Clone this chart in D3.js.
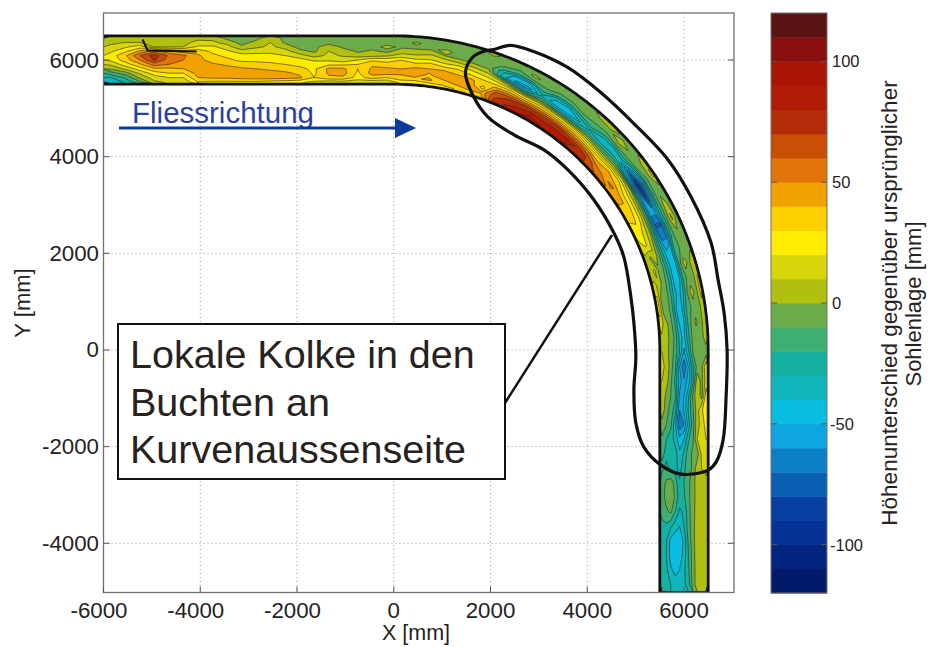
<!DOCTYPE html>
<html>
<head>
    <meta charset="utf-8">
    <title>Sohlenlage Kurve</title>
    <script src="https://d3js.org/d3.v7.min.js"></script>
    <style>
        html, body { margin: 0; padding: 0; background: #fff; }
        svg { display: block; }
        text { font-family: "Liberation Sans", Arial, sans-serif; fill: #26221e; }
        .grid { stroke: #9a9a9a; stroke-width: 1; stroke-dasharray: 1 3; }
        .frame { fill: none; stroke: #75706a; stroke-width: 1.3; }
        .tick { stroke: #5a5650; stroke-width: 1; }
        .iso { fill: none; stroke: #2b2b28; stroke-width: 0.7; stroke-opacity: 0.85; }
    </style>
</head>
<body>
    <div id="chart"></div>
    <script>
        const width = 928;
        const height = 647;

        // Achsen
        const xTicks = [-6000, -4000, -2000, 0, 2000, 4000, 6000];
        const yTicks = [6000, 4000, 2000, 0, -2000, -4000];
        const barTicks = [100, 50, 0, -50, -100];

        // Hoehenklassen der Farbskala [mm], Untergrenze je Klasse
        const levels = [-120, -110, -100, -90, -80, -70, -60, -50, -40, -30, -20, -10,
                        0, 10, 20, 30, 40, 50, 60, 70, 80, 90, 100, 110];
        const levelColors = ["#03196a", "#04257f", "#053296", "#083fa2", "#0a5fb2", "#0b80c4",
                             "#0ea5e0", "#08bde0", "#10b5bc", "#14b0a0", "#3fae72", "#6cab4a",
                             "#b0bf10", "#d6d60a", "#ffec00", "#fcd000", "#f2a200", "#e2750a",
                             "#c94f07", "#b52d08", "#b01c05", "#ab1505", "#8a0f0f", "#5a1414"];

        // Gerinne: Bogenradius und Breite [mm]
        const bendRadius = 6000;
        const channelWidth = 1000;
        const straightIn = 6000;
        const straightOut = 5000;

        // Sohlenaenderung [mm], je Station entlang des Gerinnes, von aussen nach innen
        const bedDiff = [
            [5, 8, 12, 18, 25, 22, 12, 2, -15, -30, -38],
            [6, 10, 18, 28, 38, 35, 25, 12, -5, -18, -28],
            [8, 10, 25, 42, 60, 50, 38, 25, 12, 2, -12],
            [7, 8, 9, 55, 75, 72, 55, 38, 25, 15, 8],
            [7, 8, 9, 42, 58, 55, 50, 38, 30, 20, 12],
            [7, 8, 10, 35, 52, 50, 46, 40, 30, 20, 12],
            [8, 12, 22, 35, 42, 44, 45, 46, 44, 40, 30],
            [7, 12, 22, 28, 32, 35, 42, 46, 46, 42, 28],
            [-3, 6, 14, 22, 28, 32, 38, 45, 46, 42, 28],
            [-6, -4, 2, 14, 24, 28, 34, 42, 46, 44, 28],
            [-4, 3, 8, 16, 24, 28, 33, 40, 45, 45, 28],
            [8, 10, 12, 18, 22, 27, 32, 38, 44, 45, 26],
            [-4, -2, 6, 14, 20, 25, 30, 36, 42, 44, 24],
            [-5, -6, -4, 3, 14, 24, 28, 32, 38, 42, 22],
            [-6, -5, -4, -2, 6, 18, 26, 28, 28, 30, 18],
            [-5, -6, 8, 10, 12, 18, 28, 42, 42, 38, 14],
            [-5, -4, -3, 6, 9, 14, 28, 42, 44, 38, 16],
            [-4, -6, -4, -2, 5, 20, 30, 30, 28, 26, 14],
            [-3, -7, -4, 2, 6, 28, 38, 42, 44, 35, 12],
            [-4, -5, 3, -3, 8, 26, 34, 42, 44, 30, 12],
            [-6, -4, -2, 5, 14, 30, 36, 40, 42, 36, 25],
            [-7, 2, -3, 6, 12, 25, 34, 45, 46, 38, 22],
            [-5, -6, -2, 8, 15, 28, 38, 42, 38, 42, 25],
            [-4, -5, 3, -1, 12, 22, 36, 46, 44, 35, 28],
            [-6, -3, -5, -2, 10, 25, 35, 42, 46, 40, 30],
            [-5, -2, -8, -4, 8, 20, 30, 42, 48, 45, 32],
            [3, -6, -5, -5, 5, 16, 28, 35, 25, 42, 35],
            [-4, -5, -12, -28, -35, 8, 25, 42, 62, 68, 72],
            [-3, -8, -18, -45, -52, -15, 25, 45, 68, 76, 82],
            [-5, 3, -12, -40, -55, -28, 18, 42, 70, 80, 88],
            [-6, -4, -8, -18, -32, -12, 25, 45, 72, 86, 94],
            [-4, -7, -14, -38, -45, -22, 22, 46, 72, 82, 90],
            [-5, -5, -16, -40, -48, -25, 20, 45, 72, 82, 86],
            [-4, -8, -8, -25, -42, -24, 18, 42, 68, 82, 82],
            [3, -4, -10, -15, -32, -15, 14, 38, 62, 80, 76],
            [5, -3, -12, -28, -38, -20, 8, 30, 55, 72, 72],
            [-3, 6, -5, -30, -35, -18, 5, 30, 42, 56, 62],
            [-5, -2, -6, -22, -38, -16, 8, 35, 46, 48, 55],
            [8, -4, -10, -38, -70, -45, 8, 30, 38, 52, 48],
            [12, -5, -15, -60, -92, -62, 0, 18, 30, 42, 44],
            [-5, -4, -12, -45, -82, -50, -10, 12, 28, 38, 35],
            [-5, 6, -10, -28, -55, -55, -15, 8, 25, 32, 30],
            [-4, 12, -8, -30, -72, -72, -25, 4, 15, 25, 28],
            [-5, -3, -8, -25, -62, -62, -30, -4, 12, 22, 14],
            [-4, -5, -10, -12, -42, -48, -30, -8, 8, -3, 8],
            [8, -3, 5, -12, -42, -46, -28, -10, -4, 12, 6],
            [10, -5, -6, -15, -40, -50, -30, -12, -4, 8, 12],
            [12, -4, 5, -10, -32, -45, -34, -15, -5, -3, 22],
            [8, -6, -5, -12, -22, -45, -42, -18, -5, -4, 24],
            [6, -5, 2, -8, -22, -48, -38, -15, -4, 6, 14],
            [5, -4, -6, -8, -24, -45, -32, -12, -3, 5, 8],
            [-5, -3, -5, -10, -32, -52, -30, -14, -4, 3, 10],
            [18, -3, -6, -25, -50, -68, -50, -18, -5, 8, 12],
            [15, -4, 8, -25, -45, -58, -45, -22, -8, 4, 10],
            [25, -5, 10, -8, -32, -50, -52, -18, -10, -3, 8],
            [28, 18, 6, -12, -28, -48, -60, -25, -15, -5, 5],
            [25, 12, 8, -15, -35, -60, -68, -38, -18, -10, -3],
            [20, 15, 10, -12, -22, -40, -46, -34, -25, -20, -12],
            [15, 12, -5, -8, -14, -28, -38, -25, -25, -22, -18],
            [12, 10, 6, -8, -15, -22, -35, -25, -22, -18, -22],
            [8, 8, 6, -5, -12, -20, -28, -14, -5, -8, -15],
            [8, 8, 5, -5, -12, -22, -25, -12, 0, -6, -14],
            [8, 8, 5, -4, -14, -28, -32, -20, -8, -12, -18],
            [8, 8, 5, -3, -15, -30, -40, -35, -28, -22, -22],
            [8, 8, 6, -4, -18, -38, -47, -47, -44, -30, -22],
            [8, 8, 6, -5, -20, -36, -46, -49, -45, -30, -24],
            [8, 8, 5, -5, -22, -32, -40, -44, -38, -28, -25],
            [8, 8, 6, -6, -25, -32, -38, -35, -30, -28, -28]
        ];

        // Kante in der Sohle am Einlauf [mm]
        const bedStep = [[-5192, 6425], [-5088, 6197], [-4073, 6176]];

        // Umrandung der Kolkzone [mm]
        const scourOutline = [
            [2062, 6218], [2415, 6301], [2891, 6176], [3596, 5845], [4280, 5326], [4964, 4684],
            [5668, 3938], [6145, 3171], [6560, 2218], [6705, 1451], [6829, 767], [6891, 0],
            [6870, -974], [6808, -1865], [6663, -2321], [6497, -2487], [5938, -2570], [5523, -2383],
            [5171, -2010], [5005, -1513], [4964, -829], [5005, -145], [4964, 560], [4902, 1098],
            [4756, 1927], [4549, 2425], [4135, 3109], [3596, 3731], [3098, 4145], [2477, 4456],
            [1938, 4829], [1627, 5285], [1482, 5741], [1627, 6052], [1855, 6176]
        ];

        const boxLines = ["Lokale Kolke in den", "Buchten an", "Kurvenaussenseite"];

        const plot = { left: 103.5, right: 734, top: 13, bottom: 592.5 };
        const bar = { left: 771, right: 827, top: 13, bottom: 593 };

        const x = d3.scaleLinear().domain([-6000, 6000]).range([103.5, 684]);
        const y = d3.scaleLinear().domain([6000, -4000]).range([60, 543.3]);
        const yBar = d3.scaleLinear().domain([-120, 120]).range([bar.bottom, bar.top]);

        const svg = d3.select("#chart").append("svg")
            .attr("width", width)
            .attr("height", height);

        svg.append("defs").append("clipPath").attr("id", "plot-clip")
            .append("rect")
            .attr("x", plot.left).attr("y", plot.top)
            .attr("width", plot.right - plot.left).attr("height", plot.bottom - plot.top);

        // Gitter
        svg.selectAll(".gx").data(xTicks.slice(1)).enter().append("line")
            .attr("class", "grid")
            .attr("x1", d => x(d)).attr("x2", d => x(d))
            .attr("y1", plot.top).attr("y2", plot.bottom);
        svg.selectAll(".gy").data(yTicks).enter().append("line")
            .attr("class", "grid")
            .attr("y1", d => y(d)).attr("y2", d => y(d))
            .attr("x1", plot.left).attr("x2", plot.right);

        // Station s entlang der Achse und Abstand n von der Achse -> X, Y
        const bendLength = bendRadius * Math.PI / 2;
        function channelPoint(s, n) {
            const r = bendRadius + n;
            if (s < straightIn) return [s - straightIn, r];
            if (s < straightIn + bendLength) {
                const a = (s - straightIn) / bendRadius;
                return [r * Math.sin(a), r * Math.cos(a)];
            }
            return [r, straightIn + bendLength - s];
        }

        const nCols = bedDiff.length;
        const nRows = bedDiff[0].length;
        const totalLength = straightIn + bendLength + straightOut;
        const stationScale = d3.scaleLinear().domain([0, nCols]).range([0, totalLength]);
        const offsetScale = d3.scaleLinear().domain([0, nRows]).range([channelWidth / 2, -channelWidth / 2]);

        const flat = d3.range(nRows).flatMap(j => d3.range(nCols).map(i => bedDiff[i][j]));
        const contours = d3.contours().size([nCols, nRows]).thresholds(levels)(flat);

        const channelPath = d3.geoPath(d3.geoTransform({
            point(c, r) {
                const p = channelPoint(stationScale(c), offsetScale(r));
                this.stream.point(x(p[0]), y(p[1]));
            }
        }));

        const field = svg.append("g").attr("clip-path", "url(#plot-clip)");
        field.selectAll(".band").data(contours).enter().append("path")
            .attr("class", "band")
            .attr("d", channelPath)
            .attr("fill", (d, i) => levelColors[i]);
        field.selectAll(".iso").data(contours.slice(1)).enter().append("path")
            .attr("class", "iso")
            .attr("d", channelPath);

        // Waende des Gerinnes
        const wallLine = d3.line().x(d => x(d[0])).y(d => y(d[1]));
        const wallStations = d3.range(0, totalLength + 100, 100);
        [channelWidth / 2, -channelWidth / 2].forEach(n => {
            field.append("path")
                .attr("d", wallLine(wallStations.map(s => channelPoint(s, n))))
                .attr("fill", "none")
                .attr("stroke", "#111")
                .attr("stroke-width", 2.8);
        });
        field.append("path")
            .attr("d", wallLine(bedStep))
            .attr("fill", "none")
            .attr("stroke", "#111")
            .attr("stroke-width", 2);

        // Rahmen und Ticks
        svg.append("rect").attr("class", "frame")
            .attr("x", plot.left).attr("y", plot.top)
            .attr("width", plot.right - plot.left).attr("height", plot.bottom - plot.top);
        svg.selectAll(".tx").data(xTicks).enter().append("line")
            .attr("class", "tick")
            .attr("x1", d => x(d)).attr("x2", d => x(d))
            .attr("y1", plot.bottom).attr("y2", plot.bottom - 6);
        svg.selectAll(".ty").data(yTicks).enter().append("line")
            .attr("class", "tick")
            .attr("y1", d => y(d)).attr("y2", d => y(d))
            .attr("x1", plot.left).attr("x2", plot.left + 6);
        svg.selectAll(".ty2").data(yTicks).enter().append("line")
            .attr("class", "tick")
            .attr("y1", d => y(d)).attr("y2", d => y(d))
            .attr("x1", plot.right).attr("x2", plot.right - 6);

        svg.selectAll(".xl").data(xTicks).enter().append("text")
            .attr("x", d => x(d) - (d < 0 ? 4.5 : 0)).attr("y", 618)
            .attr("text-anchor", "middle")
            .attr("font-size", 22.3)
            .text(d => d);
        svg.selectAll(".yl").data(yTicks).enter().append("text")
            .attr("x", 99).attr("y", d => y(d) + 7.5)
            .attr("text-anchor", "end")
            .attr("font-size", 22.3)
            .text(d => d);
        svg.append("text")
            .attr("x", 416).attr("y", 640)
            .attr("text-anchor", "middle")
            .attr("font-size", 21.5)
            .text("X [mm]");
        svg.append("text")
            .attr("transform", "translate(29.5,303) rotate(-90)")
            .attr("text-anchor", "middle")
            .attr("font-size", 22)
            .text("Y [mm]");

        // Kolkzone und Hinweis
        const outline = d3.line()
            .x(d => x(d[0])).y(d => y(d[1]))
            .curve(d3.curveCatmullRomClosed.alpha(0.5));
        svg.append("path")
            .attr("d", outline(scourOutline))
            .attr("fill", "none")
            .attr("stroke", "#111")
            .attr("stroke-width", 3.2);
        svg.append("line")
            .attr("x1", 505).attr("y1", 403).attr("x2", 612).attr("y2", 235)
            .attr("stroke", "#111").attr("stroke-width", 2.5);

        svg.append("rect")
            .attr("x", 118).attr("y", 324).attr("width", 387).attr("height", 155)
            .attr("fill", "#fff").attr("stroke", "#111").attr("stroke-width", 2);
        svg.selectAll(".box-line").data(boxLines).enter().append("text")
            .attr("x", 130)
            .attr("y", (d, i) => 368.3 + i * 47.5)
            .attr("font-size", 39.5)
            .text(d => d);

        // Fliessrichtung
        svg.append("text")
            .attr("x", 132).attr("y", 123)
            .attr("font-size", 29.5)
            .style("fill", "#2b3f9e")
            .text("Fliessrichtung");
        svg.append("line")
            .attr("x1", 119).attr("y1", 128).attr("x2", 398).attr("y2", 128)
            .attr("stroke", "#0b3c9c").attr("stroke-width", 3);
        svg.append("path")
            .attr("d", d3.line()([[395, 118], [416, 128], [395, 138]]) + "Z")
            .attr("fill", "#0b3c9c");

        // Farbskala
        svg.selectAll(".swatch").data(levels).enter().append("rect")
            .attr("class", "swatch")
            .attr("x", bar.left)
            .attr("width", bar.right - bar.left)
            .attr("y", d => yBar(d + 10))
            .attr("height", d => yBar(d) - yBar(d + 10) + 0.5)
            .attr("fill", (d, i) => levelColors[i]);
        svg.append("rect").attr("class", "frame")
            .attr("x", bar.left).attr("y", bar.top)
            .attr("width", bar.right - bar.left).attr("height", bar.bottom - bar.top)
            .style("stroke-width", 1);
        barTicks.forEach(t => {
            [[bar.left, bar.left + 6], [bar.right, bar.right - 6]].forEach(e => {
                svg.append("line").attr("class", "tick")
                    .attr("x1", e[0]).attr("x2", e[1])
                    .attr("y1", yBar(t)).attr("y2", yBar(t));
            });
        });
        svg.selectAll(".bl").data(barTicks).enter().append("text")
            .attr("x", d => d < 0 ? 830 : 832).attr("y", d => yBar(d) + 6)
            .attr("font-size", 16.5)
            .text(d => d);
        svg.append("text")
            .attr("transform", "translate(897,303) rotate(-90)")
            .attr("text-anchor", "middle")
            .attr("font-size", 22.5)
            .text("Höhenunterschied gegenüber ursprünglicher");
        svg.append("text")
            .attr("transform", "translate(921,304) rotate(-90)")
            .attr("text-anchor", "middle")
            .attr("font-size", 22)
            .text("Sohlenlage [mm]");
    </script>
</body>
</html>
